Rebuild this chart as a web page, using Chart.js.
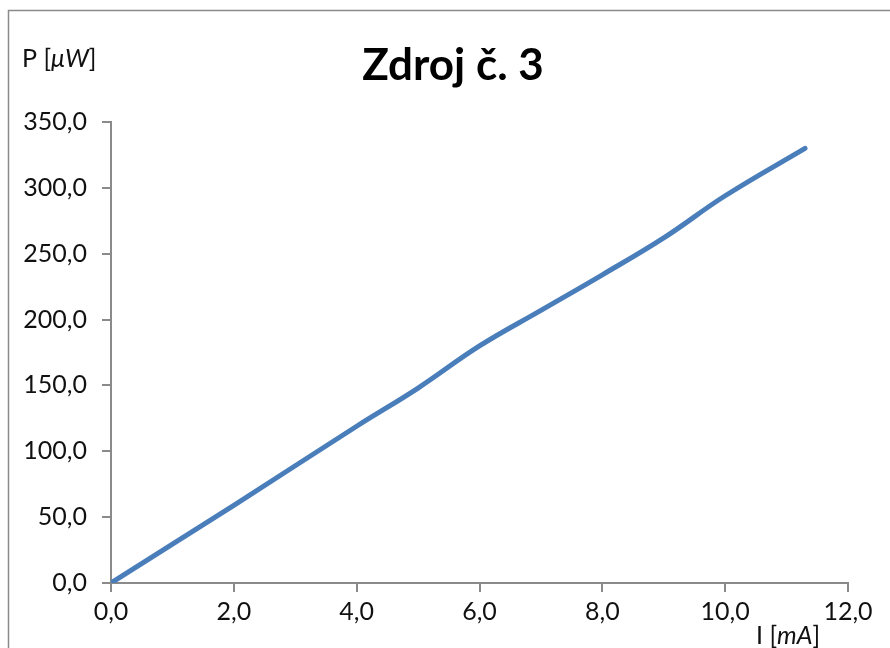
<!DOCTYPE html>
<html>
<head>
<meta charset="utf-8">
<script src="https://cdn.jsdelivr.net/npm/chart.js@4/dist/chart.umd.min.js"></script>
<style>
  html, body { margin: 0; padding: 0; background: #fff; }
  #wrap { position: relative; width: 890px; height: 648px; }
</style>
</head>
<body>
<div id="wrap"><canvas id="c" width="890" height="648"></canvas></div>
<script>
// Measured current I [mA] and power P [µW] of source no. 3
const currentMA = [0, 2.0, 4.0, 5.0, 6.0, 7.0, 8.0, 9.0, 10.0, 11.3];
const powerUW   = [0, 59, 119, 148, 180, 207, 234, 262, 294, 330];

const xTicks = [0, 2, 4, 6, 8, 10, 12];
const yTicks = [0, 50, 100, 150, 200, 250, 300, 350];

const chartTitle = 'Zdroj č. 3';

const FONT = 'Lato, "Open Sans", sans-serif';
const AXIS_GRAY = '#8a8a8a';
const TEXT = '#111111';

const fmt = v => Number(v).toFixed(1).replace('.', ',');

// Frame, title and axis captions
const decorations = {
  id: 'decorations',
  beforeDraw(chart) {
    const ctx = chart.ctx;
    ctx.save();
    ctx.fillStyle = '#ffffff';
    ctx.fillRect(0, 0, chart.width, chart.height);
    ctx.strokeStyle = AXIS_GRAY;
    ctx.lineWidth = 1.5;
    ctx.strokeRect(8.5, 10.5, chart.width + 20, chart.height + 20);
    ctx.restore();
  },
  afterDraw(chart) {
    const ctx = chart.ctx;
    ctx.save();
    ctx.fillStyle = '#000';
    ctx.textBaseline = 'alphabetic';
    ctx.textAlign = 'center';
    ctx.font = 'bold 44px ' + FONT;
    ctx.fillText(chartTitle, 453, 80);

    // segmented caption: upright / italic parts
    const drawParts = (parts, x, y) => {
      ctx.textAlign = 'left';
      let cx = x;
      for (const [txt, italic] of parts) {
        ctx.font = (italic ? 'italic ' : '') + '25px ' + FONT;
        ctx.fillText(txt, cx, y);
        cx += ctx.measureText(txt).width;
      }
    };
    ctx.fillStyle = TEXT;
    drawParts([['P [', false], ['\u03BCW', true], [']', false]], 22, 67);
    drawParts([['I [', false], ['mA', true], [']', false]], 756, 644);
    ctx.restore();
  }
};

new Chart(document.getElementById('c'), {
  type: 'scatter',
  data: {
    datasets: [{
      data: currentMA.map((x, i) => ({ x, y: powerUW[i] })),
      showLine: true,
      borderColor: '#4a7ebb',
      borderWidth: 5,
      borderCapStyle: 'round',
      borderJoinStyle: 'round',
      tension: 0.4,
      pointRadius: 0,
      pointHoverRadius: 0,
      fill: false
    }]
  },
  options: {
    responsive: false,
    animation: false,
    events: [],
    layout: { padding: { left: 0, top: 122, right: 42, bottom: 0 } },
    plugins: {
      legend: { display: false },
      title: { display: false },
      tooltip: { enabled: false }
    },
    scales: {
      x: {
        type: 'linear',
        min: 0, max: 12,
        afterFit(s) { s.height = 65; },
        afterBuildTicks(s) { s.ticks = xTicks.map(v => ({ value: v })); },
        border: { color: AXIS_GRAY, width: 2 },
        grid: { drawOnChartArea: false, drawTicks: true, tickLength: 9, color: AXIS_GRAY, lineWidth: 2 },
        ticks: { callback: fmt, font: { family: FONT, size: 25 }, color: TEXT, padding: 5, maxRotation: 0 }
      },
      y: {
        type: 'linear',
        min: 0, max: 350,
        afterFit(s) { s.width = 111; },
        afterBuildTicks(s) { s.ticks = yTicks.map(v => ({ value: v })); },
        border: { color: AXIS_GRAY, width: 2 },
        grid: { drawOnChartArea: false, drawTicks: true, tickLength: 9, color: AXIS_GRAY, lineWidth: 2 },
        ticks: { callback: fmt, font: { family: FONT, size: 25 }, color: TEXT, padding: 15 }
      }
    }
  },
  plugins: [decorations]
});
</script>
</body>
</html>
